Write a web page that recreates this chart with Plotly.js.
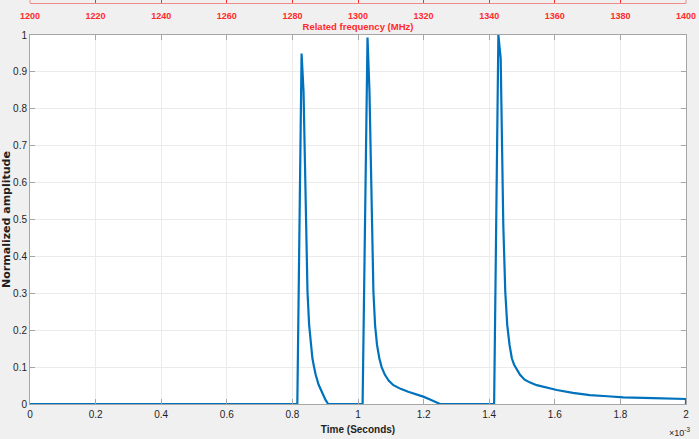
<!DOCTYPE html>
<html>
<head>
<meta charset="utf-8">
<script src="https://cdn.plot.ly/plotly-3.0.1.min.js"></script>
<style>
  html, body { margin: 0; padding: 0; background: #f0f0f0; }
  #chart { width: 699px; height: 439px; }
</style>
</head>
<body>
<div id="chart"></div>
<script>
// time in units of 1e-3 s (axis shows x10^-3)
const timeE3 = [
    0, 0.815, 0.828, 0.834, 0.838, 0.841, 0.846, 0.851, 0.856, 0.861, 0.866, 0.871, 0.880, 0.889, 0.895, 0.901, 0.909,
    1.014, 1.029, 1.035, 1.039, 1.042, 1.047, 1.052, 1.058, 1.065, 1.072, 1.082, 1.094, 1.108, 1.130, 1.153, 1.175, 1.199, 1.218, 1.235, 1.250,
    1.415, 1.428, 1.435, 1.440, 1.443, 1.449, 1.455, 1.462, 1.469, 1.476, 1.484, 1.494, 1.508, 1.525, 1.545, 1.575, 1.606, 1.655, 1.707, 1.760, 1.809, 1.900, 2.0, 2.0
];
const amplitude = [
    0, 0, 0.950, 0.846, 0.666, 0.485, 0.304, 0.214, 0.160, 0.124, 0.100, 0.079, 0.052, 0.033, 0.020, 0.011, 0,
    0, 0.993, 0.846, 0.666, 0.485, 0.304, 0.214, 0.160, 0.124, 0.100, 0.079, 0.063, 0.051, 0.041, 0.033, 0.027, 0.020, 0.013, 0.006, 0,
    0, 1.0, 0.937, 0.666, 0.485, 0.304, 0.214, 0.160, 0.124, 0.106, 0.094, 0.079, 0.066, 0.058, 0.051, 0.044, 0.038, 0.030, 0.024, 0.021, 0.018, 0.016, 0.0135, 0
];
const freqRange = [1200, 1400];

const plotTop = 369 / 401; // main axes height inside the paper area

const tickFont = { family: "Liberation Sans, Arial, sans-serif", size: 10, color: "#1f1f1f" };
const titleFont = { family: "Liberation Sans, Arial, sans-serif", size: 10, color: "#1f1f1f", weight: "bold" };
const red = "#ff2a2a";

const traces = [
    {
        x: timeE3,
        y: amplitude,
        type: "scatter",
        mode: "lines",
        line: { color: "#0072BD", width: 2.2 },
        hoverinfo: "x+y"
    },
    {
        x: freqRange,
        y: [null, null],
        xaxis: "x2",
        type: "scatter",
        mode: "lines",
        hoverinfo: "skip"
    }
];

const layout = {
    width: 699,
    height: 439,
    margin: { l: 30, r: 13, t: 3, b: 35 },
    paper_bgcolor: "#f0f0f0",
    plot_bgcolor: "#ffffff",
    showlegend: false,
    xaxis: {
        range: [0, 2],
        dtick: 0.2,
        tick0: 0,
        ticks: "inside",
        ticklen: 5,
        tickcolor: "#a6a6a6",
        showline: true,
        linecolor: "#a6a6a6",
        mirror: "ticks",
        showgrid: true,
        gridcolor: "#ebebeb",
        zeroline: false,
        tickfont: tickFont,
        ticklabelstandoff: 1,
        title: { text: "Time (Seconds)", font: titleFont, standoff: 6 }
    },
    xaxis2: {
        overlaying: "x",
        anchor: "free",
        position: 1,
        side: "bottom",
        range: freqRange,
        dtick: 20,
        tick0: 1200,
        ticks: "inside",
        ticklen: 4,
        tickcolor: red,
        showline: true,
        linecolor: "#f08a8a",
        showgrid: false,
        zeroline: false,
        ticklabelstandoff: 4,
        tickfont: { family: "Liberation Sans, Arial, sans-serif", size: 9, color: red, weight: "bold" },
        title: { text: "Related frequency (MHz)", font: { family: "Liberation Sans, Arial, sans-serif", size: 9.5, color: red, weight: "bold" }, standoff: 2 }
    },
    yaxis: {
        domain: [0, plotTop],
        range: [0, 1],
        dtick: 0.1,
        tick0: 0,
        ticks: "inside",
        ticklen: 5,
        tickcolor: "#a6a6a6",
        showline: true,
        linecolor: "#a6a6a6",
        mirror: "ticks",
        showgrid: true,
        gridcolor: "#ebebeb",
        zeroline: false,
        tickfont: tickFont,
        title: {
            text: "Normalized amplitude",
            font: { family: "DejaVu Sans, sans-serif", size: 11, color: "#1f1f1f", weight: "bold" },
            standoff: 2
        }
    },
    shapes: [
        { type: "line", xref: "paper", yref: "paper", x0: 0, x1: 0, y0: 1, y1: 1.02, line: { color: "#f08a8a", width: 1 } },
        { type: "line", xref: "paper", yref: "paper", x0: 1, x1: 1, y0: 1, y1: 1.02, line: { color: "#f08a8a", width: 1 } }
    ],
    annotations: [
        {
            xref: "paper", yref: "paper",
            x: 0.99, y: -0.07,
            xanchor: "center", yanchor: "middle",
            text: "×10<sup>-3</sup>",
            showarrow: false,
            font: { family: "Liberation Sans, Arial, sans-serif", size: 9, color: "#1f1f1f" }
        }
    ]
};

Plotly.newPlot("chart", traces, layout, { displayModeBar: false, staticPlot: true });
</script>
</body>
</html>
